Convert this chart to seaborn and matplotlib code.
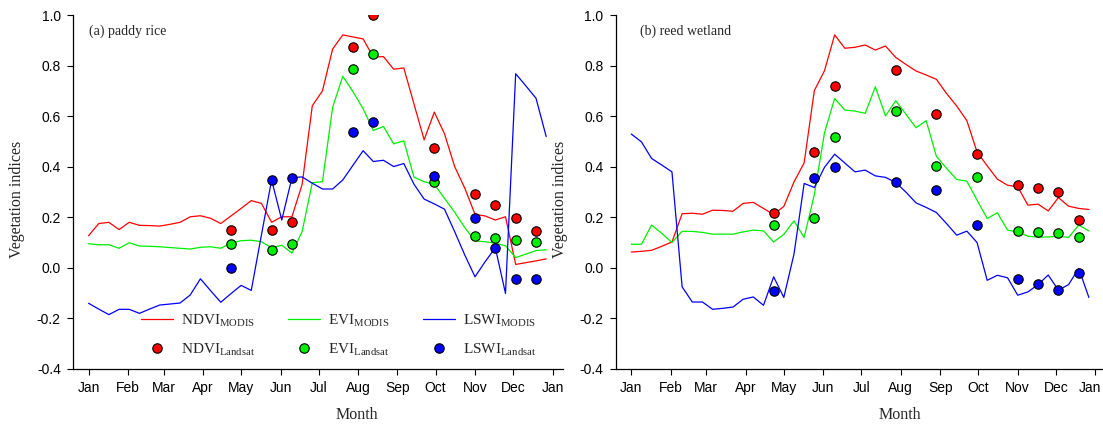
import numpy as np
import pandas as pd
import matplotlib
matplotlib.use("Agg")
import matplotlib.pyplot as plt
import matplotlib.transforms as mtransforms
from matplotlib.lines import Line2D
import seaborn as sns

# 8-day MODIS composite dates (day of year)
doy_modis = [1, 9, 17, 25, 33, 41, 49, 57, 65, 73, 81, 89, 97, 105, 113, 121,
             129, 137, 145, 153, 161, 169, 177, 185, 193, 201, 209, 217, 225,
             233, 241, 249, 257, 265, 273, 281, 289, 297, 305, 313, 321, 329,
             337, 345, 353, 361]

# (a) paddy rice - MODIS time series
rice_ndvi_modis = [0.127, 0.175, 0.180, 0.151, 0.180, 0.168, 0.167, 0.165, 0.172, 0.180,
                   0.202, 0.206, 0.196, 0.175, 0.205, 0.235, 0.266, 0.255, 0.180, 0.202,
                   0.202, 0.330, 0.642, 0.701, 0.867, 0.923, 0.915, 0.907, 0.835, 0.837,
                   0.787, 0.792, 0.649, 0.507, 0.617, 0.531, 0.401, 0.315, 0.212, 0.205,
                   0.189, 0.202, 0.013, 0.020, 0.027, 0.035]
rice_evi_modis = [0.095, 0.091, 0.091, 0.077, 0.099, 0.086, 0.085, 0.083, 0.080, 0.077,
                  0.074, 0.081, 0.083, 0.077, 0.097, 0.107, 0.109, 0.103, 0.079, 0.089,
                  0.058, 0.143, 0.337, 0.341, 0.636, 0.759, 0.698, 0.630, 0.544, 0.560,
                  0.491, 0.503, 0.359, 0.341, 0.331, 0.275, 0.220, 0.159, 0.106, 0.103,
                  0.097, 0.087, 0.040, 0.054, 0.068, 0.071]
rice_lswi_modis = [-0.141, -0.164, -0.186, -0.165, -0.165, -0.181, -0.164, -0.148, -0.144, -0.140,
                   -0.108, -0.044, -0.091, -0.137, -0.103, -0.070, -0.090, 0.130, 0.348, 0.189,
                   0.357, 0.360, 0.335, 0.312, 0.312, 0.348, 0.406, 0.464, 0.421, 0.426,
                   0.401, 0.413, 0.331, 0.272, 0.253, 0.232, 0.143, 0.050, -0.036, 0.024,
                   0.079, -0.102, 0.769, 0.721, 0.672, 0.520]

# (a) paddy rice - Landsat observations
rice_doy_landsat = [113, 145, 161, 209, 225, 273, 305, 321, 337, 353]
rice_ndvi_landsat = [0.150, 0.150, 0.180, 0.875, 1.000, 0.474, 0.294, 0.249, 0.196, 0.144]
rice_evi_landsat = [0.094, 0.069, 0.093, 0.787, 0.849, 0.340, 0.126, 0.118, 0.110, 0.102]
rice_lswi_landsat = [0.000, 0.348, 0.356, 0.537, 0.579, 0.365, 0.198, 0.078, -0.045, -0.044]

# (b) reed wetland - MODIS time series
reed_ndvi_modis = [0.062, 0.065, 0.069, 0.085, 0.102, 0.214, 0.216, 0.212, 0.228, 0.227,
                   0.224, 0.255, 0.259, 0.235, 0.211, 0.243, 0.340, 0.416, 0.702, 0.781,
                   0.923, 0.870, 0.874, 0.883, 0.863, 0.879, 0.834, 0.806, 0.780, 0.764,
                   0.747, 0.691, 0.641, 0.583, 0.459, 0.404, 0.351, 0.327, 0.321, 0.248,
                   0.252, 0.225, 0.278, 0.244, 0.235, 0.231]
reed_evi_modis = [0.093, 0.093, 0.169, 0.136, 0.100, 0.144, 0.144, 0.140, 0.133, 0.133,
                  0.133, 0.142, 0.149, 0.146, 0.102, 0.132, 0.186, 0.120, 0.290, 0.535,
                  0.671, 0.625, 0.621, 0.612, 0.717, 0.602, 0.662, 0.609, 0.555, 0.583,
                  0.442, 0.394, 0.350, 0.343, 0.268, 0.195, 0.218, 0.149, 0.142, 0.125,
                  0.121, 0.122, 0.125, 0.120, 0.169, 0.146]
reed_lswi_modis = [0.530, 0.499, 0.433, 0.407, 0.380, -0.076, -0.136, -0.136, -0.165, -0.161,
                   -0.156, -0.125, -0.116, -0.149, -0.036, -0.118, 0.054, 0.334, 0.318, 0.398,
                   0.450, 0.415, 0.380, 0.387, 0.364, 0.358, 0.338, 0.300, 0.257, 0.239,
                   0.219, 0.175, 0.129, 0.145, 0.100, -0.050, -0.030, -0.040, -0.109, -0.096,
                   -0.067, -0.029, -0.089, -0.067, -0.003, -0.118]

# (b) reed wetland - Landsat observations
reed_doy_landsat = [113, 145, 161, 209, 241, 273, 305, 321, 337, 353]
reed_ndvi_landsat = [0.215, 0.460, 0.722, 0.784, 0.608, 0.452, 0.329, 0.317, 0.302, 0.191]
reed_evi_landsat = [0.171, 0.198, 0.518, 0.621, 0.403, 0.359, 0.146, 0.142, 0.136, 0.122]
reed_lswi_landsat = [-0.093, 0.354, 0.398, 0.339, 0.308, 0.169, -0.044, -0.064, -0.089, -0.021]

# Month boundaries on the day-of-year axis
month_doy = [1, 32, 60, 91, 121, 152, 182, 213, 244, 274, 305, 335, 366]
month_labels = ["Jan", "Feb", "Mar", "Apr", "May", "Jun", "Jul", "Aug",
                "Sep", "Oct", "Nov", "Dec", "Jan"]
y_ticks = [-0.4, -0.2, 0.0, 0.2, 0.4, 0.6, 0.8, 1.0]

panels = [
    ("(a) paddy rice", rice_ndvi_modis, rice_evi_modis, rice_lswi_modis,
     rice_doy_landsat, rice_ndvi_landsat, rice_evi_landsat, rice_lswi_landsat),
    ("(b) reed wetland", reed_ndvi_modis, reed_evi_modis, reed_lswi_modis,
     reed_doy_landsat, reed_ndvi_landsat, reed_evi_landsat, reed_lswi_landsat),
]

colors = {"NDVI": "#ff0000", "EVI": "#00ee00", "LSWI": "#0000ff"}

sns.set_style("ticks")
plt.rcParams["font.family"] = ["Liberation Sans", "DejaVu Sans"]
plt.rcParams["mathtext.fontset"] = "custom"
plt.rcParams["mathtext.rm"] = "Liberation Serif"
plt.rcParams["axes.unicode_minus"] = False

SERIF = "Liberation Serif"

fig = plt.figure(figsize=(11.03, 4.29), dpi=100)
ax_w, ax_h, ax_b = 0.4437, 0.8231, 0.1408
axes = [fig.add_axes([0.06646, ax_b, ax_w, ax_h]),
        fig.add_axes([0.5585, ax_b, ax_w, ax_h])]

for ax, (title, ndvi_m, evi_m, lswi_m, doy_l, ndvi_l, evi_l, lswi_l) in zip(axes, panels):
    for name, vals in (("NDVI", ndvi_m), ("EVI", evi_m), ("LSWI", lswi_m)):
        sns.lineplot(x=doy_modis, y=vals, color=colors[name], linewidth=0.9,
                     ax=ax, zorder=2)
    for name, vals in (("NDVI", ndvi_l), ("EVI", evi_l), ("LSWI", lswi_l)):
        sns.scatterplot(x=doy_l, y=vals, color=colors[name], edgecolor="black",
                        linewidth=0.8, s=46, ax=ax, zorder=3)

    ax.set_xlim(-11, 374)
    ax.set_ylim(-0.4, 1.0)
    ax.set_xticks(month_doy)
    ax.set_xticklabels(month_labels)
    ax.set_yticks(y_ticks)
    ax.set_yticklabels([f"{v:.1f}" for v in y_ticks])
    ax.tick_params(direction="out", length=4, width=0.8, labelsize=10,
                   colors="black", pad=5)
    for side in ("top", "right"):
        ax.spines[side].set_visible(False)
    for side in ("left", "bottom"):
        ax.spines[side].set_linewidth(0.9)
        ax.spines[side].set_color("black")

    ax.set_xlabel("Month", fontsize=11.5, fontfamily=SERIF)
    ax.set_ylabel("Vegetation indices", fontsize=11.5, fontfamily=SERIF)
    ax.xaxis.set_label_coords(0.58, -0.109)
    ax.yaxis.set_label_coords(-0.098, 0.48)

    ax.text(0.032 if title.startswith("(a)") else 0.049, 0.956, title,
            transform=ax.transAxes, fontsize=10, fontfamily=SERIF,
            ha="left", va="center")

# keep the closing "Jan" of the right panel inside the figure edge
last_lbl = axes[1].get_xticklabels()[-1]
last_lbl.set_transform(last_lbl.get_transform() +
                       mtransforms.ScaledTranslation(-5 / 100, 0, fig.dpi_scale_trans))

# Legend in the lower part of the paddy rice panel: one small legend per index
ax0 = axes[0]
legend_x = [0.1383, 0.4387, 0.7145]
for i, (name, lx) in enumerate(zip(["NDVI", "EVI", "LSWI"], legend_x)):
    handles = [
        Line2D([], [], color=colors[name], linewidth=0.9),
        Line2D([], [], color=colors[name], marker="o", linestyle="none",
               markeredgecolor="black", markeredgewidth=0.8, markersize=6.8),
    ]
    labels = [name + r"$_{\rm MODIS}$", name + r"$_{\rm Landsat}$"]
    leg = ax0.legend(handles, labels, loc="center left",
                     bbox_to_anchor=(lx, 0.0937), frameon=False,
                     borderpad=0, borderaxespad=0, handlelength=2.1,
                     handletextpad=0.5, labelspacing=0.8,
                     prop={"family": SERIF, "size": 11})
    if i < 2:
        ax0.add_artist(leg)

fig.savefig("out.png", dpi=100)
